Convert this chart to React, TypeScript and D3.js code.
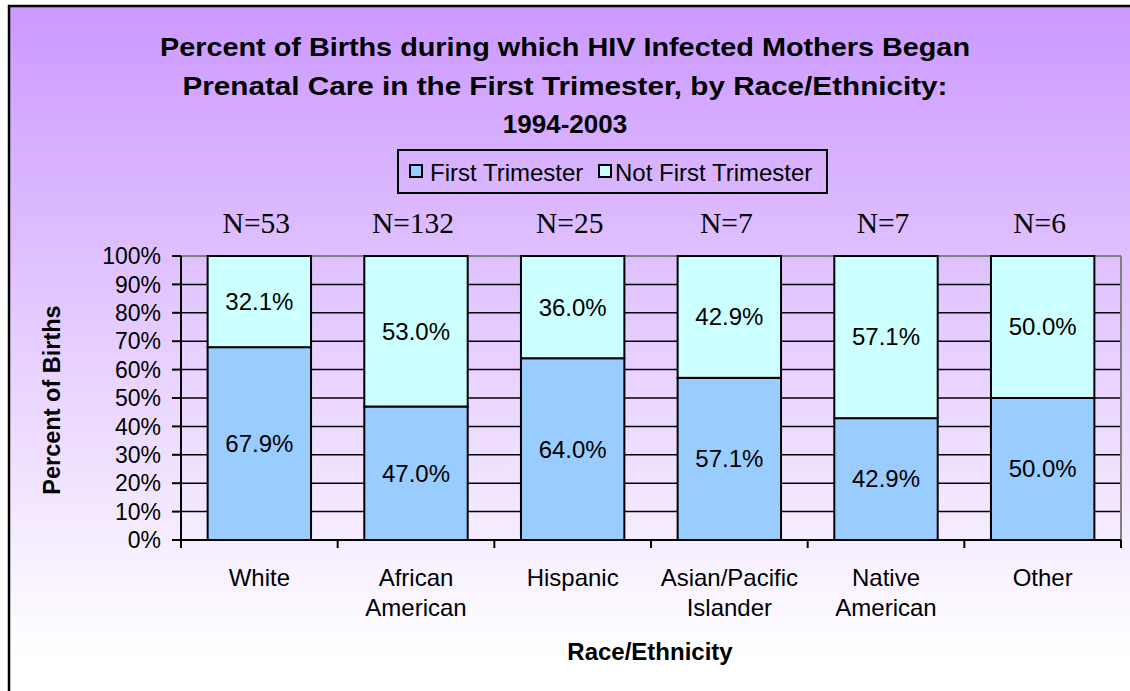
import React from "react";
import * as d3 from "d3";

const categories: string[][] = [
  ["White"],
  ["African", "American"],
  ["Hispanic"],
  ["Asian/Pacific", "Islander"],
  ["Native", "American"],
  ["Other"],
];
const nLabels = ["N=53", "N=132", "N=25", "N=7", "N=7", "N=6"];
const firstTrimester = [67.9, 47.0, 64.0, 57.1, 42.9, 50.0];
const notFirstTrimester = [32.1, 53.0, 36.0, 42.9, 57.1, 50.0];
const yTicks = [0, 10, 20, 30, 40, 50, 60, 70, 80, 90, 100];
const titleLines = [
  "Percent of Births during which HIV Infected Mothers Began",
  "Prenatal Care in the First Trimester, by Race/Ethnicity:",
  "1994-2003",
];
const seriesNames = ["First Trimester", "Not First Trimester"];
const seriesColors = ["#99CCFF", "#CCFFFF"];

const W = 1130;
const H = 691;
const plot = { left: 181, right: 1121, top: 256, bottom: 540 };
const sans = "'Liberation Sans', Arial, sans-serif";
const serif = "'Liberation Serif', 'Times New Roman', serif";
// rendered widths of the stretched title lines (layout only)
const titleStretch = [810, 765, undefined];

export default function App() {
  const idx = categories.map((_, i) => String(i));
  const x = d3
    .scaleBand<string>()
    .domain(idx)
    .range([plot.left, plot.right])
    .paddingInner(0.34)
    .paddingOuter(0.17);
  const xb = d3.scaleBand<string>().domain(idx).range([plot.left, plot.right]);
  const y = d3.scaleLinear().domain([0, 100]).range([plot.bottom, plot.top]);
  const boundaries = d3.range(categories.length + 1).map((i) => plot.left + i * xb.step());

  return (
    <svg
      width={W}
      height={H}
      style={{ position: "absolute", left: 0, top: 0 }}
      fontFamily={sans}
    >
      <defs>
        <linearGradient id="bg" x1="0" y1="0" x2="0" y2="1" gradientUnits="objectBoundingBox">
          <stop offset="0" stopColor="#CC99FF" />
          <stop offset="0.93" stopColor="#FFFFFF" />
          <stop offset="1" stopColor="#FFFFFF" />
        </linearGradient>
      </defs>
      <rect x={9} y={6} width={1140} height={700} fill="url(#bg)" stroke="#000" strokeWidth={2.5} />

      {titleLines.map((t, i) => (
        <text
          key={t}
          x={565}
          y={56 + i * 38.5}
          textAnchor="middle"
          fontWeight="bold"
          fontSize={26}
          textLength={titleStretch[i]}
          lengthAdjust={titleStretch[i] ? "spacingAndGlyphs" : undefined}
        >
          {t}
        </text>
      ))}

      {/* legend */}
      <rect x={398} y={150} width={429} height={43} fill="none" stroke="#000" strokeWidth={2} />
      {seriesNames.map((s, i) => {
        const lx = i === 0 ? 410 : 599;
        return (
          <g key={s}>
            <rect x={lx} y={165} width={12} height={12} fill={seriesColors[i]} stroke="#000" strokeWidth={2} />
            <text x={lx + (i === 0 ? 20 : 16)} y={181} fontSize={24}>
              {s}
            </text>
          </g>
        );
      })}

      {/* gridlines */}
      {yTicks.slice(1, -1).map((t) => (
        <line key={t} x1={plot.left} x2={plot.right} y1={y(t)} y2={y(t)} stroke="#000" strokeWidth={1.5} />
      ))}
      <line x1={plot.left} x2={plot.right} y1={y(100)} y2={y(100)} stroke="#808080" strokeWidth={2} />
      <line x1={plot.right} x2={plot.right} y1={y(100)} y2={y(0)} stroke="#808080" strokeWidth={2} />

      {/* bars */}
      {idx.map((k, i) => {
        const bx = x(k)!;
        const bw = x.bandwidth();
        const f = firstTrimester[i];
        const n = notFirstTrimester[i];
        return (
          <g key={k}>
            <rect x={bx} y={y(f)} width={bw} height={y(0) - y(f)} fill={seriesColors[0]} stroke="#000" strokeWidth={2} />
            <rect x={bx} y={y(f + n)} width={bw} height={y(f) - y(f + n)} fill={seriesColors[1]} stroke="#000" strokeWidth={2} />
            <text x={bx + bw / 2} y={y(f / 2)} dy="0.35em" textAnchor="middle" fontSize={24}>
              {f.toFixed(1) + "%"}
            </text>
            <text x={bx + bw / 2} y={y(f + n / 2)} dy="0.35em" textAnchor="middle" fontSize={24}>
              {n.toFixed(1) + "%"}
            </text>
            <text x={bx + bw / 2 - 3} y={233} textAnchor="middle" fontSize={29.5} fontFamily={serif}>
              {nLabels[i]}
            </text>
            {categories[i].map((line, j) => (
              <text key={line} x={bx + bw / 2} y={586 + j * 29.5} textAnchor="middle" fontSize={24}>
                {line}
              </text>
            ))}
          </g>
        );
      })}

      {/* axes */}
      <line x1={plot.left} x2={plot.left} y1={y(100)} y2={y(0) + 8} stroke="#000" strokeWidth={2} />
      <line x1={plot.left} x2={plot.right} y1={y(0)} y2={y(0)} stroke="#000" strokeWidth={2} />
      {boundaries.map((bx, i) => (
        <line key={i} x1={bx} x2={bx} y1={y(0)} y2={y(0) + 8} stroke="#000" strokeWidth={2} />
      ))}
      {yTicks.map((t) => (
        <g key={t}>
          <line x1={plot.left - 9} x2={plot.left} y1={y(t)} y2={y(t)} stroke="#000" strokeWidth={2} />
          <text x={161} y={y(t)} dy="0.36em" textAnchor="end" fontSize={23}>
            {t + "%"}
          </text>
        </g>
      ))}

      <text
        transform={`translate(60,${(plot.top + plot.bottom) / 2 + 2}) rotate(-90)`}
        textAnchor="middle"
        fontWeight="bold"
        fontSize={23.5}
      >
        Percent of Births
      </text>
      <text x={650} y={660} textAnchor="middle" fontWeight="bold" fontSize={24}>
        Race/Ethnicity
      </text>
    </svg>
  );
}
